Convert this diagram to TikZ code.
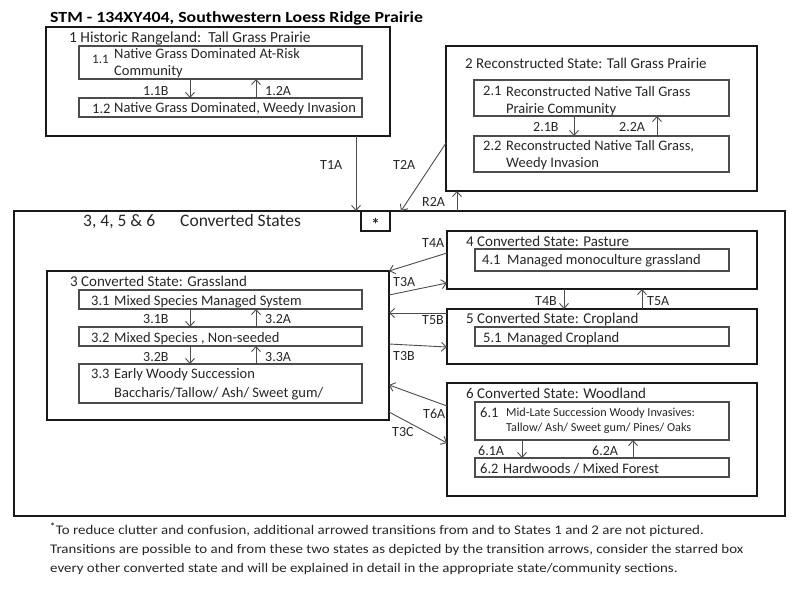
\documentclass[tikz,border=0pt]{standalone}
\usepackage{fontspec}
\setmainfont{Carlito}
\newfontfamily\titlefont[FakeStretch=1.15]{Carlito}
\newfontfamily\notefont[FakeStretch=1.13]{Carlito}
\usetikzlibrary{arrows.meta}
\tikzset{
  state box/.style={draw=black!90, line width=2pt, anchor=north west, inner sep=0pt, outer sep=0pt},
  comm box/.style={draw=black!70, line width=1.1pt, anchor=north west, inner sep=0pt, outer sep=0pt},
  txt/.style={anchor=base west, inner sep=0pt, text=black!85, font=\fontsize{14.5}{17}\selectfont},
  ttl/.style={txt, font=\fontsize{15}{18}\selectfont},
  lbl/.style={txt, font=\fontsize{14}{16}\selectfont},
  note/.style={txt, font=\notefont\fontsize{13.2}{15}\selectfont},
  tr/.style={-{Straight Barb[length=5pt,width=9pt]}, draw=black!70, line width=0.9pt}
}

\begin{document}
\begin{tikzpicture}[x=1pt, y=-1pt]
    \useasboundingbox (0,0) rectangle (800,589);

    \node[anchor=base west, inner sep=0pt, font=\titlefont\bfseries\fontsize{15.5}{18}\selectfont] (title) at (50,22) {STM - 134XY404, Southwestern Loess Ridge Prairie};

    % state 1
    \node[state box, minimum width=344pt, minimum height=109pt] (s1) at (46,27) {};
    \node[comm box, minimum width=283pt, minimum height=33pt] (b11) at (79,46) {};
    \node[comm box, minimum width=283pt, minimum height=19pt] (b12) at (79,98) {};
    \node[ttl, font=\fontsize{15.4}{18}\selectfont] (t1) at (69,42) {1 Historic Rangeland:\ \ Tall Grass Prairie};
    \node[txt, font=\fontsize{13}{15}\selectfont] (n11) at (92,63) {1.1};
    \node[txt] (t11a) at (114,58) {Native Grass Dominated At-Risk};
    \node[txt] (t11b) at (114,75) {Community};
    \node[txt] (n12) at (92,113) {1.2};
    \node[txt] (t12) at (114,112) {Native Grass Dominated, Weedy Invasion};

    % state 2
    \node[state box, minimum width=311pt, minimum height=145pt] (s2) at (446,46) {};
    \node[comm box, minimum width=255pt, minimum height=36pt] (b21) at (474,80) {};
    \node[comm box, minimum width=255pt, minimum height=36pt] (b22) at (474,136) {};
    \node[ttl] (t2) at (465,68) {2 Reconstructed State: Tall Grass Prairie};
    \node[txt] (n21) at (483,95) {2.1};
    \node[txt] (t21a) at (506,96) {Reconstructed Native Tall Grass};
    \node[txt] (t21b) at (506,113) {Prairie Community};
    \node[txt] (n22) at (483,150) {2.2};
    \node[txt] (t22a) at (506,150) {Reconstructed Native Tall Grass,};
    \node[txt] (t22b) at (506,167) {Weedy Invasion};

    % converted states
    \node[state box, minimum width=771pt, minimum height=305pt] (conv) at (14,211) {};
    \node[state box, minimum width=29pt, minimum height=20pt] (star) at (361,211) {};
    \node[inner sep=0pt, text=black!85, font=\bfseries\fontsize{17}{18}\selectfont, yshift=-3.5pt] (starmark) at (star.center) {*};
    \node[txt, font=\fontsize{17.5}{20}\selectfont] (tc1) at (83,226) {3, 4, 5 \& 6};
    \node[txt, font=\fontsize{17.5}{20}\selectfont] (tc2) at (180,226) {Converted States};

    % state 3
    \node[state box, minimum width=342pt, minimum height=149pt] (s3) at (47,271) {};
    \node[comm box, minimum width=283pt, minimum height=19pt] (b31) at (79,290) {};
    \node[comm box, minimum width=283pt, minimum height=19pt] (b32) at (79,327) {};
    \node[comm box, minimum width=283pt, minimum height=39pt] (b33) at (79,364) {};
    \node[ttl] (t3) at (70,286) {3 Converted State: Grassland};
    \node[txt] (n31) at (91,305) {3.1};
    \node[txt] (t31) at (114,305) {Mixed Species Managed System};
    \node[txt] (n32) at (91,342) {3.2};
    \node[txt] (t32) at (114,342) {Mixed Species , Non-seeded};
    \node[txt] (n33) at (91,378) {3.3};
    \node[txt] (t33a) at (114,378) {Early Woody Succession};
    \node[txt] (t33b) at (114,397) {Baccharis/Tallow/ Ash/ Sweet gum/};

    % state 4
    \node[state box, minimum width=310pt, minimum height=58pt] (s4) at (447,231) {};
    \node[comm box, minimum width=254pt, minimum height=22pt] (b41) at (475,249) {};
    \node[ttl] (t4) at (466,246) {4 Converted State: Pasture};
    \node[txt] (n41) at (482,264) {4.1};
    \node[txt] (t41) at (507,264) {Managed monoculture grassland};

    % state 5
    \node[state box, minimum width=310pt, minimum height=55pt] (s5) at (447,309) {};
    \node[comm box, minimum width=254pt, minimum height=19pt] (b51) at (475,327) {};
    \node[ttl] (t5) at (466,323) {5 Converted State: Cropland};
    \node[txt] (n51) at (483,342) {5.1};
    \node[txt] (t51) at (507,342) {Managed Cropland};

    % state 6
    \node[state box, minimum width=310pt, minimum height=113pt] (s6) at (447,383) {};
    \node[comm box, minimum width=254pt, minimum height=38pt] (b61) at (475,402) {};
    \node[comm box, minimum width=254pt, minimum height=19pt] (b62) at (475,458) {};
    \node[ttl] (t6) at (466,398) {6 Converted State: Woodland};
    \node[txt] (n61) at (480,417) {6.1};
    \node[txt, font=\fontsize{12.2}{14}\selectfont] (t61a) at (506,416) {Mid-Late Succession Woody Invasives:};
    \node[txt, font=\fontsize{12.2}{14}\selectfont] (t61b) at (506,431) {Tallow/ Ash/ Sweet gum/ Pines/ Oaks};
    \node[txt] (n62) at (480,473) {6.2};
    \node[txt] (t62) at (503,473) {Hardwoods / Mixed Forest};

    % transitions inside the states
    \draw[tr] ([xshift=-30.5pt]b11.south) -- ([xshift=-30.5pt]b12.north);
    \draw[tr] ([xshift=35.5pt]b12.north) -- ([xshift=35.5pt]b11.south);
    \draw[tr] ([xshift=-27.5pt]b21.south) -- ([xshift=-27.5pt]b22.north);
    \draw[tr] ([xshift=55.5pt]b22.north) -- ([xshift=55.5pt]b21.south);
    \draw[tr] ([xshift=-30.5pt]b31.south) -- ([xshift=-30.5pt]b32.north);
    \draw[tr] ([xshift=35.5pt]b32.north) -- ([xshift=35.5pt]b31.south);
    \draw[tr] ([xshift=-30.5pt]b32.south) -- ([xshift=-30.5pt]b33.north);
    \draw[tr] ([xshift=35.5pt]b33.north) -- ([xshift=35.5pt]b32.south);
    \draw[tr] ([xshift=-80pt]b61.south) -- ([xshift=-80pt]b62.north);
    \draw[tr] ([xshift=31pt]b62.north) -- ([xshift=31pt]b61.south);

    % transitions between the states
    \draw[tr] ([xshift=-34pt]s1.south east) -- ([xshift=-34pt]s1.south east |- conv.north);
    \draw[tr] ([yshift=-24.5pt]s2.west) -- ([xshift=1.5pt]conv.north);
    \draw[tr] ([xshift=11pt]s2.south west |- conv.north) -- ([xshift=11pt]s2.south west);
    \draw[tr] ([yshift=7pt]s4.west) -- (s3.north east);
    \draw[tr] ([yshift=50.5pt]s3.east) -- ([yshift=-23pt]s4.west);
    \draw[tr] ([yshift=23.5pt]s5.west) -- ([yshift=23.5pt]s5.west -| s3.east);
    \draw[tr] ([yshift=1.5pt]s3.east) -- ([yshift=-10.5pt]s5.west);
    \draw[tr] ([xshift=-38pt]s4.south) -- ([xshift=-38pt]s5.north);
    \draw[tr] ([xshift=40pt]s5.north) -- ([xshift=40pt]s4.south);
    \draw[tr] ([yshift=33.5pt]s6.west) -- ([yshift=-39.5pt]s3.east);
    \draw[tr] ([yshift=-66.5pt]s3.east) -- ([yshift=-3.5pt]s6.west);

    % transition labels
    \node[lbl] (l11b) at (143,95) {1.1B};
    \node[lbl] (l12a) at (265,95) {1.2A};
    \node[lbl] (l21b) at (533,131) {2.1B};
    \node[lbl] (l22a) at (619,131) {2.2A};
    \node[lbl] (l31b) at (143,323) {3.1B};
    \node[lbl] (l32a) at (265,323) {3.2A};
    \node[lbl] (l32b) at (143,361) {3.2B};
    \node[lbl] (l33a) at (265,361) {3.3A};
    \node[lbl] (l61a) at (478,455) {6.1A};
    \node[lbl] (l62a) at (592,455) {6.2A};
    \node[lbl] (lt1a) at (320,169) {T1A};
    \node[lbl] (lt2a) at (393,169) {T2A};
    \node[lbl] (lr2a) at (422,206) {R2A};
    \node[lbl] (lt4a) at (422,247) {T4A};
    \node[lbl] (lt3a) at (393,286) {T3A};
    \node[lbl] (lt5b) at (422,324) {T5B};
    \node[lbl] (lt3b) at (393,360) {T3B};
    \node[lbl] (lt4b) at (535,305) {T4B};
    \node[lbl] (lt5a) at (647,305) {T5A};
    \node[lbl] (lt6a) at (423,418) {T6A};
    \node[lbl] (lt3c) at (392,436) {T3C};

    % footnote
    \node[note] (fn1) at (50,534) {\textsuperscript{\textbf{*}}To reduce clutter and confusion, additional arrowed transitions from and to States 1 and 2 are not pictured.};
    \node[note] (fn2) at (50,553) {Transitions are possible to and from these two states as depicted by the transition arrows, consider the starred box};
    \node[note] (fn3) at (50,572) {every other converted state and will be explained in detail in the appropriate state/community sections.};

\end{tikzpicture}
\end{document}
